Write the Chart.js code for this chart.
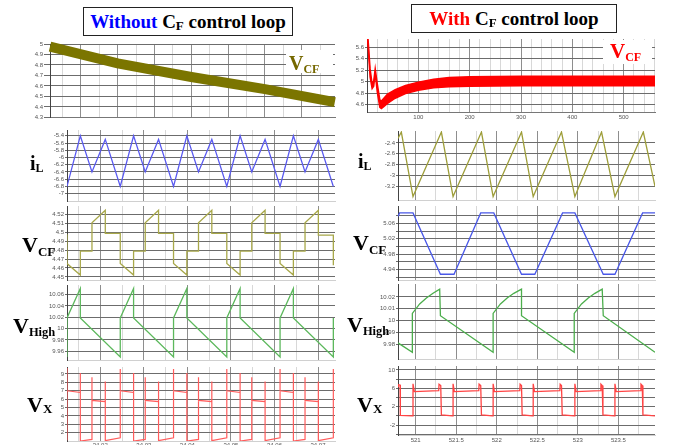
<!DOCTYPE html>
<html>
<head>
<meta charset="utf-8">
<script src="https://cdn.jsdelivr.net/npm/chart.js@4.4.1/dist/chart.umd.min.js"></script>
<style>
  html, body { margin: 0; padding: 0; background: #fff; }
  #fig { position: relative; width: 674px; height: 445px; overflow: hidden; }
  #plots canvas { position: absolute; }
  #labels { position: absolute; left: 0; top: 0; width: 674px; height: 445px; z-index: 2; }
  .lbl { position: absolute; font-family: "Liberation Serif", "Times New Roman", serif; font-weight: bold;
         line-height: 1; white-space: nowrap; color: #000; }
  .lbl span { position: relative; }
  .title { position: absolute; box-sizing: border-box; border: 1px solid #222; background: #fff; text-align: center;
           font-family: "Liberation Serif", "Times New Roman", serif; font-weight: bold; font-size: 19px;
           line-height: 27px; white-space: nowrap; }
  .title span { font-size: 13px; position: relative; top: 2px; }
  .patch { position: absolute; background: #fff; }
</style>
</head>
<body>
<div id="fig">
  <div id="plots"></div>
  <div id="labels">
    <div class="title" style="left:83px;top:7px;width:210px;height:29px;"><span style="color:#0000ff;font-size:19px;top:0">Without</span> C<span>F</span> control loop</div>
    <div class="title" style="left:411px;top:4px;width:206px;height:29px;"><span style="color:#ff0000;font-size:19px;top:0">With</span> C<span>F</span> control loop</div>
    <div class="patch" style="left:286px;top:50px;width:47px;height:23px;"></div>
    <div class="patch" style="left:603px;top:40px;width:49px;height:24px;"></div>
  </div>
</div>
<script>
// ---- without C_F loop: slow drift of the flying capacitor voltage ----
const driftT = [-0.68, 3, 7, 11, 14.8];
const driftV = [4.975, 4.815, 4.685, 4.57, 4.445];
const driftTicks = [4.3, 4.4, 4.5, 4.6, 4.7, 4.8, 4.9, 5];

// ---- with C_F loop: start-up, upper / lower edge of the ripple band ----
const startT  = [0, 2, 6, 10, 13, 16, 20, 25, 28, 32, 40, 55, 75, 100, 130, 160, 200, 300, 561];
const startHi = [5.80, 5.74, 5.22, 4.96, 5.00, 5.22, 4.96, 4.68, 4.66, 4.70, 4.78, 4.86, 4.93, 4.99, 5.04, 5.07, 5.085, 5.09, 5.09];
const startLo = [5.76, 5.64, 5.08, 4.88, 4.92, 5.14, 4.82, 4.55, 4.53, 4.56, 4.62, 4.71, 4.79, 4.85, 4.89, 4.91, 4.92, 4.925, 4.925];
const startTicks = [4.6, 4.8, 5, 5.2, 5.4, 5.6];
const startTimeLabels = [0, 100, 200, 300, 400, 500];

// ---- without loop, zoomed: switching instants and levels at each instant ----
const tSwL = [34.012355, 34.015413, 34.018089, 34.021147,
              34.024587, 34.027645, 34.030321, 34.033379,
              34.036820, 34.039878, 34.042554, 34.045612,
              34.049052, 34.052110, 34.054786, 34.057844,
              34.061284, 34.064343, 34.067018, 34.070076,
              34.073517];
const iLNoLoop = [-6.8, -5.4, -6.4, -5.5, -6.8, -5.4, -6.4, -5.5, -6.8, -5.4, -6.4, -5.5,
                  -6.8, -5.4, -6.4, -5.5, -6.8, -5.4, -6.4, -5.5, -6.8];
const vcfNoLoop = [[4.498, 4.465], [4.452, 4.479], [4.479, 4.511], [4.525, 4.499],
                   [4.499, 4.465], [4.452, 4.479], [4.479, 4.511], [4.525, 4.499],
                   [4.499, 4.465], [4.452, 4.479], [4.479, 4.511], [4.525, 4.499],
                   [4.499, 4.465], [4.452, 4.479], [4.479, 4.511], [4.525, 4.499],
                   [4.499, 4.465], [4.452, 4.479], [4.479, 4.511], [4.525, 4.497],
                   [4.497, 4.463]];
const vHighNoLoop = [[9.95, 10.019], [10.071, 10.019], [], [],
                     [9.95, 10.019], [10.071, 10.019], [], [],
                     [9.95, 10.019], [10.071, 10.019], [], [],
                     [9.95, 10.019], [10.071, 10.019], [], [],
                     [9.95, 10.019], [10.071, 10.019], [], [],
                     [9.95, 10.019]];
const vxNoLoop = [[1.1, 9.7, 7.0], [6.8, 9.1, 1.0], [1.2, 8.6, 5.85], [5.7, 8.1, 1.05],
                  [1.4, 9.6, 7.0], [6.8, 9.1, 1.0], [1.2, 8.6, 5.85], [5.7, 8.1, 1.05],
                  [1.4, 9.6, 7.0], [6.8, 9.1, 1.0], [1.2, 8.6, 5.85], [5.7, 8.1, 1.05],
                  [1.4, 9.6, 7.0], [6.8, 9.1, 1.0], [1.2, 8.6, 5.85], [5.7, 8.1, 1.05],
                  [1.4, 9.6, 7.0], [6.8, 9.1, 1.0], [1.2, 8.6, 5.85], [5.7, 8.1, 1.05],
                  [1.4, 9.6, 7.0]];
const iLNoLoopTicks = [-7, -6.8, -6.6, -6.4, -6.2, -6, -5.8, -5.6, -5.4];
const vcfNoLoopTicks = [4.45, 4.46, 4.47, 4.48, 4.49, 4.5, 4.51, 4.52];
const vHighNoLoopTicks = [9.96, 9.98, 10, 10.02, 10.04, 10.06];
const vxNoLoopTicks = [2, 3, 4, 5, 6, 7, 8, 9];
const timeLabelsL = [34.02, 34.03, 34.04, 34.05, 34.06, 34.07];

// ---- with loop, zoomed ----
const iLLoopT = [520.782, 520.823, 520.967, 521.317, 521.461, 521.811, 521.955, 522.305,
                 522.449, 522.798, 522.963, 523.292, 523.457, 523.807, 523.951];
const iLLoop  = [-2.32, -2.2, -3.39, -2.2, -3.39, -2.2, -3.39, -2.2,
                 -3.39, -2.2, -3.39, -2.2, -3.39, -2.2, -3.2];
const vcfLoopT = [520.782, 520.802, 520.967, 521.305, 521.473, 521.802, 521.963, 522.305,
                  522.469, 522.811, 522.963, 523.313, 523.457, 523.798, 523.951];
const vcfLoop  = [5.078, 5.087, 5.087, 4.928, 4.928, 5.087, 5.087, 4.928,
                  4.928, 5.087, 5.087, 4.928, 4.928, 5.087, 5.087];
const vHighLoopT = [520.782, 520.959, 520.959, 521.049, 521.132, 521.214, 521.296, 521.305,
                    521.955, 521.955, 522.045, 522.128, 522.210, 522.305, 522.305,
                    522.955, 522.955, 523.045, 523.128, 523.210, 523.300, 523.313, 523.951];
const vHighLoop  = [9.981, 9.973, 10.006, 10.014, 10.019, 10.023, 10.0265, 10.004,
                    9.973, 10.006, 10.014, 10.019, 10.023, 10.0265, 10.004,
                    9.973, 10.006, 10.014, 10.019, 10.023, 10.0265, 10.004, 9.973];
const vxLoopT = [520.782, 520.786, 520.807, 520.811,
                 520.959, 520.967, 520.967, 520.984, 521.284, 521.288, 521.309, 521.317,
                 521.453, 521.461, 521.461, 521.477, 521.778, 521.782, 521.802, 521.811,
                 521.947, 521.955, 521.955, 521.971, 522.284, 522.288, 522.305, 522.313,
                 522.440, 522.449, 522.449, 522.465, 522.778, 522.782, 522.798, 522.807,
                 522.955, 522.963, 522.963, 522.979, 523.280, 523.284, 523.300, 523.309,
                 523.449, 523.457, 523.457, 523.473, 523.774, 523.778, 523.794, 523.802,
                 523.951];
const vxLoop  = [6.4, 6.8, 6.7, 0.1,
                 0.0, 0.0, 7.0, 5.3, 5.5, 6.9, 6.6, 0.2,
                 0.0, 0.0, 7.0, 5.3, 5.5, 6.9, 6.6, 0.2,
                 0.0, 0.0, 7.0, 5.3, 5.5, 6.9, 6.6, 0.2,
                 0.0, 0.0, 7.0, 5.3, 5.5, 6.9, 6.6, 0.2,
                 0.0, 0.0, 7.0, 5.3, 5.5, 6.9, 6.6, 0.2,
                 0.0, 0.0, 7.0, 5.3, 5.5, 6.9, 6.6, 0.2,
                 0.0];
const iLLoopTicks = [-3.2, -3, -2.8, -2.6, -2.4];
const vcfLoopGrid = [4.92, 4.94, 4.96, 4.98, 5, 5.02, 5.04, 5.06, 5.08];
const vcfLoopTicks = [4.94, 4.98, 5.02, 5.06];
const vHighLoopTicks = [9.98, 9.99, 10, 10.01, 10.02];
const vxLoopGrid = [-4, -2, 0, 2, 4, 6, 8, 10];
const vxLoopTicks = [-2, 2, 6, 10];
const timeLabelsR = [521, 521.5, 522, 522.5, 523, 523.5];

const GRID_H = '#6c6c6c';
const GRID_MAJOR = '#8e8e8e';
const GRID_MINOR = '#d8d8d8';
const TICK_FONT = { family: '"Liberation Sans", Arial, sans-serif', size: 6 };

function range(a, b, step) {
  const out = [];
  for (let v = a; v <= b + step * 1e-6; v += step) out.push(+v.toFixed(6));
  return out;
}
const xy = (t, v) => t.map((x, i) => ({ x, y: v[i] }));
// one instant can carry several levels (vertical edges)
const steps = (t, levels) => t.flatMap((x, i) => [].concat(levels[i]).map(y => ({ x, y })));
const trace = (data, color, width) => ({ data, borderColor: color, borderWidth: width || 1.3, pointRadius: 0, fill: false });

const gridL = range(34.015, 34.07, 0.005);
const majorL = v => Math.abs(v * 100 - Math.round(v * 100)) < 1e-6;
const gridR = range(521, 523.75, 0.25);
const majorR = v => Math.abs(v * 2 - Math.round(v * 2)) < 1e-6;

function scope(s) {
  const padT = 6, padR = 6;
  const cv = document.createElement('canvas');
  const left = s.area.l - s.yw, top = s.area.t - padT;
  cv.width = s.area.r - left + padR;
  cv.height = s.area.b - top + s.xh;
  cv.style.left = left + 'px';
  cv.style.top = top + 'px';
  document.getElementById('plots').appendChild(cv);
  const xLabels = s.xLabels || [];
  return new Chart(cv, {
    type: 'line',
    data: { datasets: s.datasets },
    options: {
      responsive: false,
      animation: false,
      events: [],
      layout: { padding: { top: padT, right: padR, left: 0, bottom: 0 }, autoPadding: false },
      plugins: { legend: { display: false }, tooltip: { enabled: false } },
      elements: { point: { radius: 0 }, line: { tension: 0 } },
      scales: {
        x: {
          type: 'linear', min: s.xMin, max: s.xMax,
          afterBuildTicks: sc => { sc.ticks = s.xGrid.map(v => ({ value: v })); },
          afterFit: sc => { sc.height = s.xh; },
          grid: { color: c => (c.tick && s.isMajor(c.tick.value)) ? GRID_MAJOR : GRID_MINOR, drawTicks: false },
          border: { color: s.xBorder || '#d0d0d0' },
          ticks: {
            display: xLabels.length > 0, autoSkip: false, maxRotation: 0, padding: s.xPad || 2,
            font: TICK_FONT, color: '#555',
            callback: v => xLabels.includes(v) ? String(v) : ''
          }
        },
        y: {
          type: 'linear', min: s.yMin, max: s.yMax,
          afterBuildTicks: sc => { sc.ticks = (s.yGrid || s.yLabels).map(v => ({ value: v })); },
          afterFit: sc => { sc.width = s.yw; },
          grid: { color: GRID_H, tickLength: s.yTick || 2 },
          border: { color: '#444' },
          ticks: {
            autoSkip: false, padding: 1, font: TICK_FONT, color: '#555',
            callback: v => s.yLabels.includes(v) ? String(v) : ''
          }
        }
      }
    }
  });
}

// row 1, left: V_CF drift without the loop
scope({
  area: { l: 50, r: 335, t: 44, b: 118 }, yw: 26, xh: 4, yTick: 6,
  xMin: -0.68, xMax: 14.81, xGrid: range(0, 14, 1), isMajor: v => v % 2 === 1, xBorder: '#777',
  yMin: 4.3, yMax: 5.0, yLabels: driftTicks,
  datasets: [Object.assign(trace(xy(driftT, driftV), '#7b7500', 10), { clip: 8, borderCapStyle: 'butt' })]
});

// row 1, right: V_CF start-up with the loop
scope({
  area: { l: 367, r: 655, t: 39, b: 112 }, yw: 20, xh: 12,
  xMin: 0, xMax: 561, xGrid: range(20, 560, 20), isMajor: v => v % 100 === 0, xBorder: '#777',
  xLabels: startTimeLabels, xPad: 2,
  yMin: 4.47, yMax: 5.74, yLabels: startTicks,
  datasets: [
    { data: xy(startT, startHi), borderColor: '#ff0000', backgroundColor: '#ff0000', borderWidth: 1.5, pointRadius: 0, fill: '+1' },
    trace(xy(startT, startLo), '#ff0000', 1.5)
  ]
});

// left column, switching-period zoom
scope({
  area: { l: 67, r: 335, t: 130, b: 204 }, yw: 16, xh: 2,
  xMin: 34.012355, xMax: 34.0739, xGrid: gridL, isMajor: majorL,
  yMin: -7.213, yMax: -5.24, yLabels: iLNoLoopTicks,
  datasets: [trace(xy(tSwL, iLNoLoop), '#5a5af0')]
});
scope({
  area: { l: 67, r: 335, t: 206, b: 283 }, yw: 16, xh: 2,
  xMin: 34.012355, xMax: 34.0739, xGrid: gridL, isMajor: majorL,
  yMin: 4.446, yMax: 4.5298, yLabels: vcfNoLoopTicks,
  datasets: [trace(steps(tSwL, vcfNoLoop), '#a8a84a')]
});
scope({
  area: { l: 67, r: 335, t: 285, b: 363 }, yw: 18, xh: 2,
  xMin: 34.012355, xMax: 34.0739, xGrid: gridL, isMajor: majorL,
  yMin: 9.944, yMax: 10.077, yLabels: vHighNoLoopTicks,
  datasets: [trace(steps(tSwL, vHighNoLoop), '#5cb85c')]
});
scope({
  area: { l: 67, r: 335, t: 367, b: 441 }, yw: 16, xh: 10,
  xMin: 34.012355, xMax: 34.0739, xGrid: gridL, isMajor: majorL,
  xLabels: timeLabelsL, xPad: 1,
  yMin: 1.01, yMax: 9.83, yLabels: vxNoLoopTicks,
  datasets: [trace(steps(tSwL, vxNoLoop), '#ff5c5c', 1.2)]
});

// right column, switching-period zoom
scope({
  area: { l: 398, r: 655, t: 131, b: 203 }, yw: 16, xh: 2,
  xMin: 520.782, xMax: 523.951, xGrid: gridR, isMajor: majorR,
  yMin: -3.461, yMax: -2.181, yLabels: iLLoopTicks,
  datasets: [trace(xy(iLLoopT, iLLoop), '#9e9e3a')]
});
scope({
  area: { l: 398, r: 655, t: 206, b: 283 }, yw: 16, xh: 2,
  xMin: 520.782, xMax: 523.951, xGrid: gridR, isMajor: majorR,
  yMin: 4.912, yMax: 5.105, yGrid: vcfLoopGrid, yLabels: vcfLoopTicks,
  datasets: [trace(xy(vcfLoopT, vcfLoop), '#4a58e8')]
});
scope({
  area: { l: 398, r: 655, t: 284, b: 362 }, yw: 18, xh: 2,
  xMin: 520.782, xMax: 523.951, xGrid: gridR, isMajor: majorR,
  yMin: 9.967, yMax: 10.0309, yLabels: vHighLoopTicks,
  datasets: [trace(xy(vHighLoopT, vHighLoop), '#4cae4c')]
});
scope({
  area: { l: 398, r: 655, t: 366, b: 435 }, yw: 16, xh: 12,
  xMin: 520.782, xMax: 523.951, xGrid: gridR, isMajor: majorR,
  xLabels: timeLabelsR, xPad: 2,
  yMin: -4.18, yMax: 10.87, yGrid: vxLoopGrid, yLabels: vxLoopTicks,
  datasets: [trace(xy(vxLoopT, vxLoop), '#ff4444')]
});

// signal names: main letter, subscript, left edge, baseline, sizes, subscript drop
const names = [
  ['V', 'CF', 289, 70, 20, 12, 3, '#756800'],
  ['V', 'CF', 610, 59, 21, 12, 3, '#ff0000'],
  ['i', 'L', 30, 170, 20, 12, 2, '#000'],
  ['i', 'L', 358, 168, 20, 12, 2, '#000'],
  ['V', 'CF', 22, 252, 22, 13, 4, '#000'],
  ['V', 'CF', 353, 250, 22, 13, 4, '#000'],
  ['V', 'High', 13, 333, 22, 12.5, 3, '#000'],
  ['V', 'High', 347, 332, 22, 12.5, 3, '#000'],
  ['V', 'X', 27, 412, 22, 13, 1, '#000'],
  ['V', 'X', 357, 412, 22, 13, 1, '#000']
];
const layer = document.getElementById('labels');
names.forEach(([main, sub, x, base, size, subSize, drop, color]) => {
  const d = document.createElement('div');
  d.className = 'lbl';
  d.style.left = x + 'px';
  d.style.top = (base - 0.8375 * size) + 'px';
  d.style.fontSize = size + 'px';
  d.style.color = color;
  d.innerHTML = `${main}<span style="font-size:${subSize}px;top:${drop}px">${sub}</span>`;
  layer.appendChild(d);
});
</script>
</body>
</html>
